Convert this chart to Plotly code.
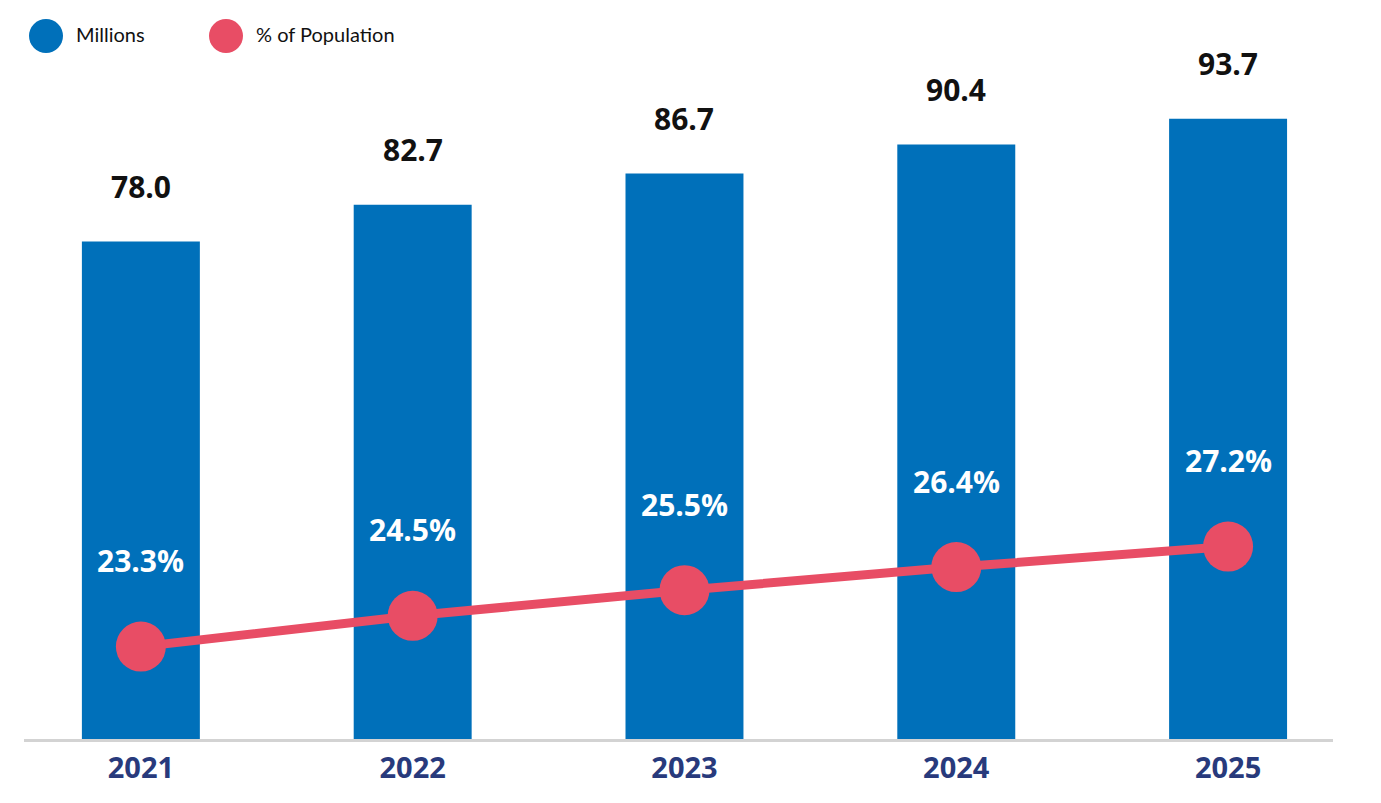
import plotly.graph_objects as go

years = ["2021", "2022", "2023", "2024", "2025"]
millions = [78.0, 82.7, 86.7, 90.4, 93.7]
pct_population = [23.3, 24.5, 25.5, 26.4, 27.2]

BLUE = "#0070BA"
RED = "#E84D65"
NAVY = "#283A7C"
FONT = "Open Sans"

W, H = 1381, 803
OFF = 8  # browser default body margin
# target pixel box of the plot area in the screenshot
PL, PR, PT, PB = 24, 1333, 60, 739
ml, mr, mt, mb = PL - OFF, W - (PR - OFF), PT - OFF, H - (PB - OFF)


def px_x(x):
    return (x - PL) / (PR - PL)


def px_y(y):
    return (PB - y) / (PB - PT)


fig = go.Figure()
fig.add_trace(go.Bar(x=years, y=millions, marker=dict(color=BLUE, line=dict(width=0)),
                     width=0.434, name="Millions", showlegend=False, hoverinfo="skip"))
fig.add_trace(go.Scatter(x=years, y=pct_population, yaxis="y2", mode="lines+markers",
                         line=dict(color=RED, width=9), marker=dict(color=RED, size=50),
                         name="% of Population", showlegend=False, hoverinfo="skip"))

annotations = []
for i, v in enumerate(millions):
    annotations.append(dict(x=i, y=v, xref="x", yref="y", text=f"<b>{v:.1f}</b>",
                            showarrow=False, yshift=55, yanchor="middle",
                            font=dict(family=FONT, size=30, color="#111111")))
for i, p in enumerate(pct_population):
    annotations.append(dict(x=i, y=p, xref="x", yref="y2", text=f"<b>{p:.1f}%</b>",
                            showarrow=False, yshift=86, yanchor="middle",
                            font=dict(family=FONT, size=30, color="white")))

# custom legend
legend_items = [("Millions", BLUE, 46, 76), ("% of Population", RED, 226, 256)]
shapes = []
for label, col, cx, tx in legend_items:
    r = 17
    cy = 36
    shapes.append(dict(type="circle", xref="paper", yref="paper",
                       x0=px_x(cx - r), x1=px_x(cx + r),
                       y0=px_y(cy + r), y1=px_y(cy - r),
                       fillcolor=col, line=dict(width=0)))
    annotations.append(dict(x=px_x(tx), y=px_y(34), xref="paper", yref="paper",
                            text=label, showarrow=False, xanchor="left", yanchor="middle",
                            xshift=-2, font=dict(family="Lato", size=20, color="#111111")))

fig.update_layout(
    width=W, height=H,
    margin=dict(l=ml, r=mr, t=mt, b=mb, autoexpand=False),
    plot_bgcolor="white", paper_bgcolor="white",
    xaxis=dict(type="category", range=[-0.43, 4.386], showgrid=False, zeroline=False,
               showline=True, linecolor="#D3D3D3", linewidth=3,
               tickfont=dict(family=FONT, size=29, color=NAVY, weight="bold"),
               ticklabelstandoff=1),
    yaxis=dict(range=[14.37, 101.2], visible=False, showgrid=False),
    yaxis2=dict(range=[19.70, 46.16], overlaying="y", visible=False, showgrid=False),
    annotations=annotations,
    shapes=shapes,
)

fig.write_html("out.html")
